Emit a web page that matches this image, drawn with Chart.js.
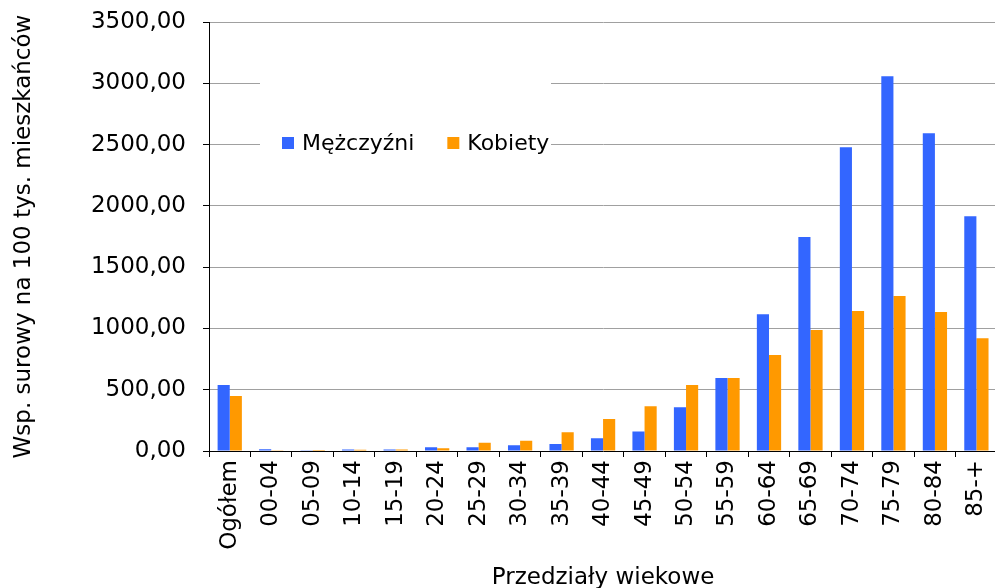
<!DOCTYPE html>
<html>
<head>
<meta charset="utf-8">
<script src="https://cdn.jsdelivr.net/npm/chart.js@4/dist/chart.umd.min.js"></script>
<style>
  html, body { margin: 0; padding: 0; background: #fff; overflow: hidden; }
  #wrap { position: relative; width: 1007px; height: 600px; }
</style>
</head>
<body>
<div id="wrap"><canvas id="chart"></canvas></div>
<script>
const categories = ['Ogółem', '00-04', '05-09', '10-14', '15-19', '20-24', '25-29', '30-34', '35-39', '40-44',
  '45-49', '50-54', '55-59', '60-64', '65-69', '70-74', '75-79', '80-84', '85-+']
const men = [538, 14, 2, 13, 12, 30, 30, 46, 57, 105, 160, 356, 596, 1115, 1746, 2478, 3057, 2592, 1915]
const women = [449, 2, 1, 11, 12, 22, 68, 84, 153, 261, 365, 538, 596, 783, 987, 1143, 1265, 1134, 919]
const yTicks = [0, 500, 1000, 1500, 2000, 2500, 3000, 3500]

const FONT = 'DejaVu Sans, Verdana, sans-serif'

// legend inside the plot, on a white box that hides the grid lines
const innerLegend = {
  id: 'innerLegend',
  afterDraw(chart) {
    const ctx = chart.ctx
    const a = chart.chartArea
    const x0 = a.left + 51
    const y0 = a.top + 50
    ctx.save()
    ctx.fillStyle = '#fff'
    ctx.fillRect(x0, y0, 291, 88)
    ctx.font = '22px ' + FONT
    ctx.textBaseline = 'middle'
    let x = x0 + 22
    const y = a.top + 121
    chart.data.datasets.forEach((ds) => {
      ctx.fillStyle = ds.backgroundColor
      ctx.fillRect(x, y - 6, 12, 12)
      ctx.fillStyle = '#000'
      ctx.fillText(ds.label, x + 20, y + 1)
      x += 20 + ctx.measureText(ds.label).width + 33
    })
    ctx.restore()
  }
}

new Chart(document.getElementById('chart'), {
  type: 'bar',
  data: {
    labels: categories,
    datasets: [{
      label: 'Mężczyźni',
      data: men,
      backgroundColor: '#3366FF'
    }, {
      label: 'Kobiety',
      data: women,
      backgroundColor: '#FF9900'
    }]
  },
  options: {
    responsive: true,
    maintainAspectRatio: false,
    animation: false,
    events: [],
    layout: { padding: { top: 22, right: 0, bottom: 0, left: 0 } },
    categoryPercentage: 0.585,
    barPercentage: 1.0,
    plugins: {
      legend: { display: false },
      tooltip: { enabled: false }
    },
    scales: {
      x: {
        grid: {
          drawOnChartArea: false,
          drawTicks: true,
          tickLength: 6,
          tickColor: '#000',
          offset: true
        },
        border: { color: '#000', width: 1 },
        ticks: {
          color: '#000',
          font: { family: FONT, size: 23 },
          minRotation: 90,
          maxRotation: 90,
          autoSkip: false,
          padding: 3
        },
        title: {
          display: true,
          text: 'Przedziały wiekowe',
          color: '#000',
          font: { family: FONT, size: 23 },
          padding: { top: 0, bottom: 8 }
        },
        afterFit(scale) { scale.height = 149 }
      },
      y: {
        min: 0,
        max: 3500,
        afterBuildTicks(scale) { scale.ticks = yTicks.map(v => ({ value: v })) },
        grid: {
          color: (c) => (c.tick && c.tick.value === 0) ? 'rgba(0,0,0,0)' : '#a0a0a0',
          lineWidth: 1,
          tickLength: 6,
          tickColor: '#000'
        },
        border: { color: '#000', width: 1 },
        ticks: {
          color: '#000',
          font: { family: FONT, size: 23 },
          padding: 17,
          callback: (v) => v.toFixed(2).replace('.', ',')
        },
        title: {
          display: true,
          text: 'Wsp. surowy na 100 tys. mieszkańców',
          color: '#000',
          font: { family: FONT, size: 23 },
          padding: { top: 10, bottom: 0 }
        },
        afterFit(scale) {
          scale.width = 209
          scale.paddingTop = 0
          scale.paddingBottom = 0
        }
      }
    }
  },
  plugins: [innerLegend]
});
</script>
</body>
</html>
